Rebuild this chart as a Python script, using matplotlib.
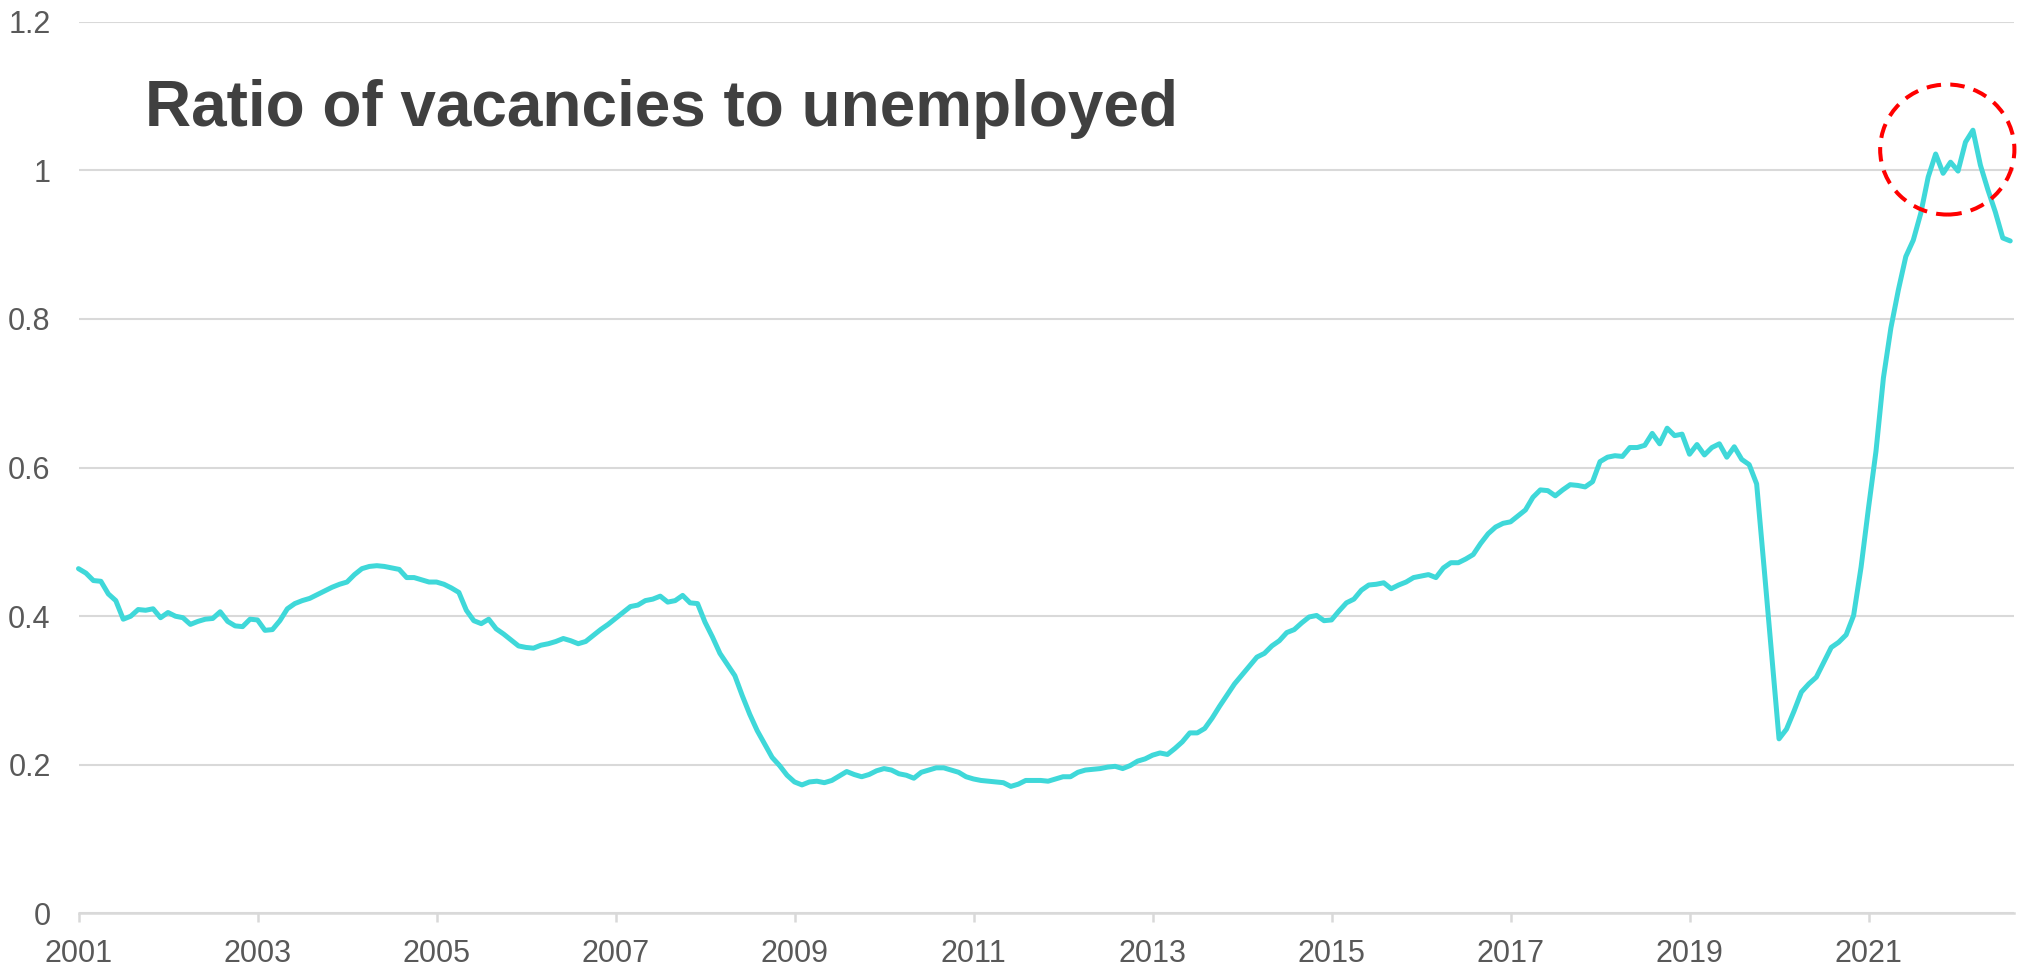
import numpy as np
import matplotlib
matplotlib.use("Agg")
import matplotlib.pyplot as plt
from matplotlib.patches import Ellipse
from matplotlib.ticker import FixedLocator, FuncFormatter

# Monthly ratio of vacancies to unemployed, Jan 2001 onwards
ratio_2001 = [0.464, 0.458, 0.448, 0.447, 0.430, 0.421, 0.396, 0.400, 0.409, 0.408, 0.410, 0.398]
ratio_2002 = [0.405, 0.400, 0.398, 0.389, 0.393, 0.396, 0.397, 0.406, 0.393, 0.387, 0.386, 0.396]
ratio_2003 = [0.395, 0.381, 0.382, 0.394, 0.410, 0.417, 0.421, 0.424, 0.429, 0.434, 0.439, 0.443]
ratio_2004 = [0.446, 0.456, 0.464, 0.467, 0.468, 0.467, 0.465, 0.463, 0.452, 0.452, 0.449, 0.446]
ratio_2005 = [0.446, 0.443, 0.438, 0.432, 0.408, 0.394, 0.390, 0.396, 0.383, 0.376, 0.368, 0.360]
ratio_2006 = [0.358, 0.357, 0.361, 0.363, 0.366, 0.370, 0.367, 0.363, 0.366, 0.374, 0.382, 0.389]
ratio_2007 = [0.397, 0.405, 0.413, 0.415, 0.421, 0.423, 0.427, 0.419, 0.421, 0.428, 0.418, 0.417]
ratio_2008 = [0.392, 0.372, 0.350, 0.335, 0.320, 0.293, 0.268, 0.246, 0.228, 0.210, 0.199, 0.186]
ratio_2009 = [0.177, 0.173, 0.177, 0.178, 0.176, 0.179, 0.185, 0.191, 0.187, 0.184, 0.187, 0.192]
ratio_2010 = [0.195, 0.193, 0.188, 0.186, 0.182, 0.190, 0.193, 0.196, 0.196, 0.193, 0.190, 0.184]
ratio_2011 = [0.181, 0.179, 0.178, 0.177, 0.176, 0.171, 0.174, 0.179, 0.179, 0.179, 0.178, 0.181]
ratio_2012 = [0.184, 0.184, 0.190, 0.193, 0.194, 0.195, 0.197, 0.198, 0.195, 0.199, 0.205, 0.208]
ratio_2013 = [0.213, 0.216, 0.214, 0.222, 0.231, 0.243, 0.243, 0.249, 0.263, 0.279, 0.294, 0.309]
ratio_2014 = [0.321, 0.333, 0.345, 0.350, 0.360, 0.367, 0.378, 0.382, 0.391, 0.399, 0.401, 0.394]
ratio_2015 = [0.395, 0.407, 0.418, 0.423, 0.435, 0.442, 0.443, 0.445, 0.437, 0.442, 0.446, 0.452]
ratio_2016 = [0.454, 0.456, 0.452, 0.465, 0.472, 0.472, 0.477, 0.483, 0.498, 0.511, 0.520, 0.525]
ratio_2017 = [0.527, 0.535, 0.543, 0.560, 0.570, 0.569, 0.562, 0.570, 0.577, 0.576, 0.574, 0.581]
ratio_2018 = [0.608, 0.614, 0.616, 0.615, 0.627, 0.627, 0.630, 0.646, 0.632, 0.653, 0.643, 0.645]
ratio_2019 = [0.618, 0.631, 0.617, 0.627, 0.632, 0.614, 0.628, 0.611, 0.604, 0.578, 0.465, 0.350]
ratio_2020 = [0.235, 0.248, 0.272, 0.298, 0.309, 0.318, 0.338, 0.358, 0.365, 0.375, 0.401, 0.466]
ratio_2021 = [0.546, 0.622, 0.721, 0.788, 0.839, 0.884, 0.906, 0.942, 0.991, 1.022, 0.996, 1.011]
ratio_2022 = [0.999, 1.038, 1.054, 1.007, 0.974, 0.944, 0.909, 0.905]

start_year = 2001
year_ticks = [2001, 2003, 2005, 2007, 2009, 2011, 2013, 2015, 2017, 2019, 2021]
value_ticks = [0, 0.2, 0.4, 0.6, 0.8, 1.0, 1.2]
title = "Ratio of vacancies to unemployed"

ratio = np.array(ratio_2001 + ratio_2002 + ratio_2003 + ratio_2004 + ratio_2005
                 + ratio_2006 + ratio_2007 + ratio_2008 + ratio_2009 + ratio_2010
                 + ratio_2011 + ratio_2012 + ratio_2013 + ratio_2014 + ratio_2015
                 + ratio_2016 + ratio_2017 + ratio_2018 + ratio_2019 + ratio_2020
                 + ratio_2021 + ratio_2022)
dates = start_year + np.arange(len(ratio)) / 12.0

plt.rcParams['font.family'] = ['Liberation Sans', 'DejaVu Sans']

fig = plt.figure(figsize=(20.18, 9.69), dpi=100)
ax = fig.add_axes([0.0389, 0.0573, 0.998 - 0.0389, 0.9776 - 0.0573])

grid_color = '#D9D9D9'
text_color = '#595959'

ax.plot(dates, ratio, color='#3FD8D9', linewidth=3.6,
        solid_joinstyle='round', solid_capstyle='round', zorder=3, clip_on=False)

# highlight around the recent peak
ax.add_patch(Ellipse((2021.88, 1.028), width=1.5, height=0.175, fill=False,
                     edgecolor='#FF0000', linewidth=2.9, linestyle=(0, (3.6, 2.3)),
                     zorder=4, clip_on=False))

ax.set_xlim(start_year, start_year + 259.5 / 12)
ax.set_ylim(0, 1.2)

ax.xaxis.set_major_locator(FixedLocator(year_ticks))
ax.xaxis.set_major_formatter(FuncFormatter(lambda v, p: f"{int(round(v))}"))
ax.yaxis.set_major_locator(FixedLocator(value_ticks))
ax.yaxis.set_major_formatter(FuncFormatter(lambda v, p: f"{v:g}"))

ax.grid(axis='y', color=grid_color, linewidth=1.5, zorder=0)
ax.set_axisbelow(True)
for side in ('left', 'right', 'top'):
    ax.spines[side].set_visible(False)
ax.spines['bottom'].set_color(grid_color)
ax.spines['bottom'].set_linewidth(1.8)

ax.tick_params(axis='x', length=6.5, width=1.8, color=grid_color,
               labelsize=22, labelcolor=text_color, pad=12)
ax.tick_params(axis='y', length=0, labelsize=22, labelcolor=text_color, pad=20)

fig.text(145 / 2018, 1 - 126 / 969, title, fontsize=46, fontweight='bold',
         color='#404040', ha='left', va='baseline')

fig.savefig('out.png', dpi=100)
